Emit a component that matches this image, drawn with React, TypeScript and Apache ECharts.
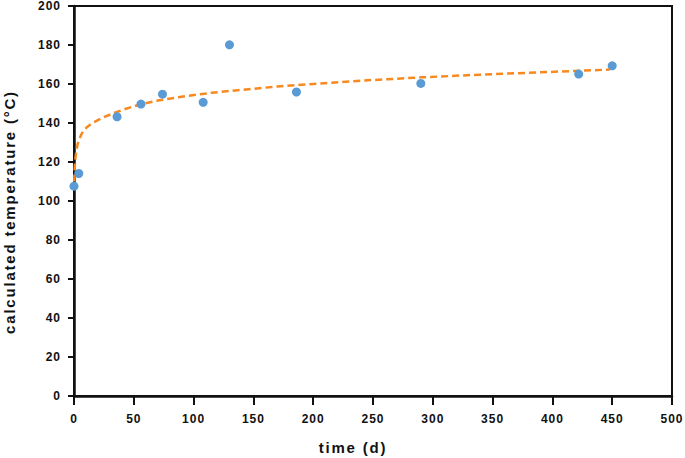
import React, { useEffect, useRef } from "react";
import * as echarts from "echarts";

// measured points
const timeDays = [0, 4, 36, 56, 74, 108, 130, 186, 290, 422, 450];
const tempC = [107.6, 114.1, 143.2, 149.7, 154.8, 150.6, 180.1, 155.9, 160.3, 165.1, 169.3];

// fitted curve
const fitTime = [0.2, 0.5, 1, 2, 3, 4, 6, 8, 11, 15, 20, 26, 33, 42, 55, 70, 90, 115, 140, 170, 200, 240, 290, 340, 390, 423, 448];
const fitTemp = [110, 116, 121, 126, 129, 131, 134, 136, 138, 139.8, 141.5, 143.3, 145, 147, 149.5, 151.5, 153.5, 155.5, 157, 158.7, 160, 161.7, 163.4, 164.8, 166, 166.8, 167.4];

const xTicks = { min: 0, max: 500, interval: 50 };
const yTicks = { min: 0, max: 200, interval: 20 };

const xName = "time (d)";
const yName = "calculated temperature (°C)";

const FONT = "'Liberation Sans', Arial, Helvetica, sans-serif";

export default function App() {
  const ref = useRef<HTMLDivElement>(null);

  useEffect(() => {
    if (!ref.current) return;
    const chart = echarts.init(ref.current, null, { renderer: "svg" });
    const axisLabel = {
      color: "#111",
      fontSize: 12,
      fontWeight: "bold" as const,
      fontFamily: FONT,
    };
    chart.setOption({
      animation: false,
      backgroundColor: "#fff",
      grid: {
        left: 74,
        right: 13,
        top: 5,
        bottom: 62,
        show: true,
        borderColor: "#111",
        borderWidth: 2,
        backgroundColor: "transparent",
      },
      xAxis: {
        type: "value",
        min: xTicks.min,
        max: xTicks.max,
        interval: xTicks.interval,
        splitLine: { show: false },
        axisLine: { show: true, onZero: false, lineStyle: { color: "#111", width: 2.5 } },
        axisTick: { show: true, length: 9, lineStyle: { color: "#111", width: 2 } },
        axisLabel: { ...axisLabel, margin: 17 },
      },
      yAxis: {
        type: "value",
        min: yTicks.min,
        max: yTicks.max,
        interval: yTicks.interval,
        splitLine: { show: false },
        axisLine: { show: true, onZero: false, lineStyle: { color: "#111", width: 2.5 } },
        axisTick: { show: true, length: 6, lineStyle: { color: "#111", width: 2 } },
        axisLabel: { ...axisLabel, margin: 13 },
      },
      graphic: [
        {
          type: "text",
          x: 353,
          y: 447.5,
          style: {
            text: xName,
            fill: "#111",
            font: `bold 15px ${FONT}`,
            textAlign: "center",
            textVerticalAlign: "middle",
          },
        },
        {
          type: "text",
          x: 9.5,
          y: 212,
          rotation: Math.PI / 2,
          style: {
            text: yName,
            fill: "#111",
            font: `bold 15px ${FONT}`,
            textAlign: "center",
            textVerticalAlign: "middle",
          },
        },
      ],
      series: [
        {
          type: "line",
          data: fitTime.map((t, i) => [t, fitTemp[i]]),
          showSymbol: false,
          smooth: false,
          lineStyle: { color: "#F7891F", width: 2.5, type: [7, 4] },
          z: 2,
        },
        {
          type: "scatter",
          data: timeDays.map((t, i) => [t, tempC[i]]),
          symbolSize: 9,
          itemStyle: { color: "#5B9BD5", opacity: 1 },
          z: 3,
        },
      ],
    });
    return () => chart.dispose();
  }, []);

  return (
    <>
      <style>{`
        #chart text { letter-spacing: 1px; }
        #chart text[style*="15px"] { letter-spacing: 1.8px; }
      `}</style>
      <div
        id="chart"
        ref={ref}
        style={{ position: "absolute", left: 0, top: 0, width: 685, height: 458 }}
      />
    </>
  );
}
